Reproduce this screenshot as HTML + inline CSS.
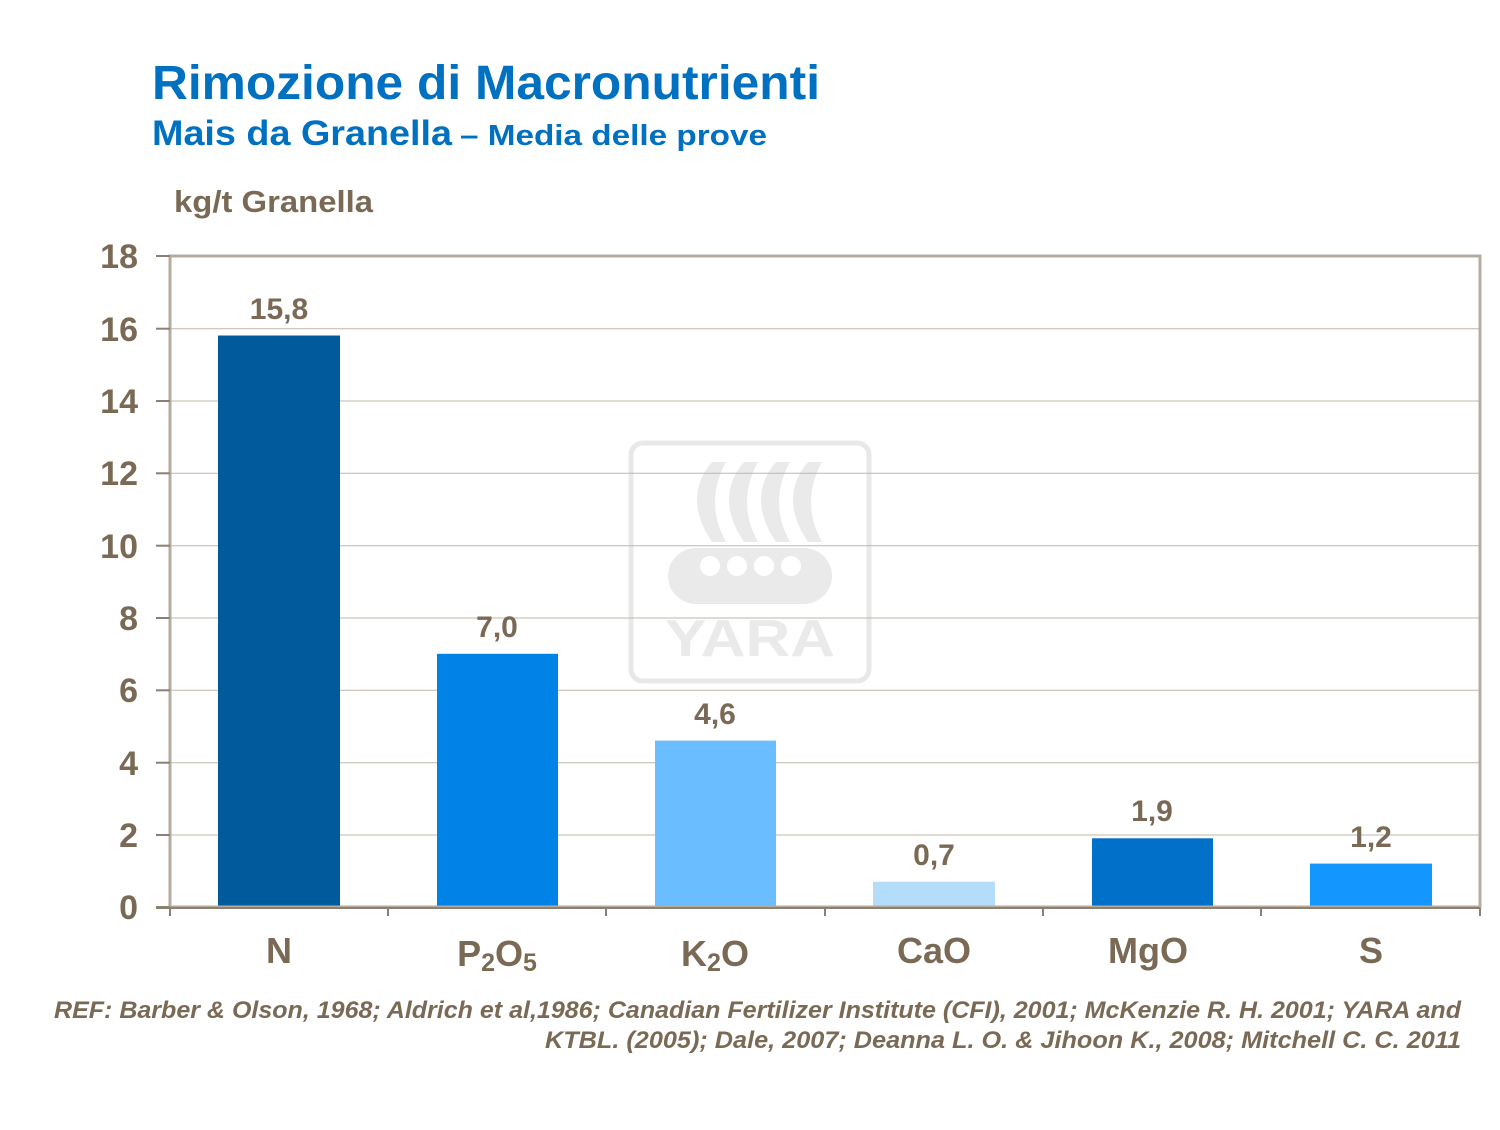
<!DOCTYPE html>
<html><head><meta charset="utf-8"><style>
body{margin:0;background:#fff;}
svg text{font-family:"Liberation Sans",Arial,sans-serif;font-weight:bold;}
</style></head><body>
<svg width="1500" height="1125" viewBox="0 0 1500 1125" xmlns="http://www.w3.org/2000/svg">
<rect width="1500" height="1125" fill="#fff"/>
<text x="152" y="99" font-size="48" fill="#0070c0" textLength="668" lengthAdjust="spacingAndGlyphs">Rimozione di Macronutrienti</text>
<text x="152" y="145" font-size="35" fill="#0070c0" textLength="300" lengthAdjust="spacingAndGlyphs">Mais da Granella</text>
<text x="460" y="145" font-size="29" fill="#0070c0" textLength="307" lengthAdjust="spacingAndGlyphs">– Media delle prove</text>
<text x="174" y="212" font-size="31" fill="#7a6a55" textLength="199" lengthAdjust="spacingAndGlyphs">kg/t Granella</text>
<!-- watermark -->
<g opacity="0.9">
<rect x="631" y="443" width="238" height="238" rx="12" fill="none" stroke="#e6e6e6" stroke-width="5"/>
<g fill="#e8e8e8">
<rect x="668" y="548" width="164" height="56" rx="28"/>
<path d="M712 462 q-30 35 0 80 l14 0 q-22 -40 0 -80z"/>
<path d="M744 462 q-30 35 0 80 l14 0 q-22 -40 0 -80z"/>
<path d="M776 462 q-30 35 0 80 l14 0 q-22 -40 0 -80z"/>
<path d="M808 462 q-30 35 0 80 l14 0 q-22 -40 0 -80z"/>
</g>
<g fill="#fff"><circle cx="710" cy="566" r="10"/><circle cx="737" cy="566" r="10"/><circle cx="764" cy="566" r="10"/><circle cx="791" cy="566" r="10"/></g>
<text x="750" y="656" font-size="52" fill="#e8e8e8" text-anchor="middle" textLength="170" lengthAdjust="spacingAndGlyphs">YARA</text>
</g>
<!-- grid -->
<g stroke="#bfb5a8" stroke-width="1">
<line x1="170" x2="1480" y1="328.7" y2="328.7"/>
<line x1="170" x2="1480" y1="401" y2="401"/>
<line x1="170" x2="1480" y1="473.3" y2="473.3"/>
<line x1="170" x2="1480" y1="545.7" y2="545.7"/>
<line x1="170" x2="1480" y1="618" y2="618"/>
<line x1="170" x2="1480" y1="690.3" y2="690.3"/>
<line x1="170" x2="1480" y1="762.7" y2="762.7"/>
<line x1="170" x2="1480" y1="835" y2="835"/>
</g>
<!-- bars -->
<rect x="218" y="335.5" width="122" height="571.5" fill="#005a9c"/>
<rect x="437" y="653.8" width="121" height="253.2" fill="#0082e6"/>
<rect x="655" y="740.6" width="121" height="166.4" fill="#6abdff"/>
<rect x="873" y="881.7" width="122" height="25.3" fill="#b3ddfa"/>
<rect x="1092" y="838.3" width="121" height="68.7" fill="#0070c8"/>
<rect x="1310" y="863.6" width="122" height="43.4" fill="#1496ff"/>
<rect x="170" y="256" width="1310" height="651" fill="none" stroke="#b5aba0" stroke-width="3"/>
<g stroke="#8c8070" stroke-width="2">
<line x1="156" x2="170" y1="256" y2="256"/><line x1="156" x2="170" y1="328.7" y2="328.7"/>
<line x1="156" x2="170" y1="401" y2="401"/><line x1="156" x2="170" y1="473.3" y2="473.3"/>
<line x1="156" x2="170" y1="545.7" y2="545.7"/><line x1="156" x2="170" y1="618" y2="618"/>
<line x1="156" x2="170" y1="690.3" y2="690.3"/><line x1="156" x2="170" y1="762.7" y2="762.7"/>
<line x1="156" x2="170" y1="835" y2="835"/><line x1="156" x2="170" y1="907" y2="907"/>
<line x1="156" x2="1480" y1="908" y2="908"/>
<line x1="170" x2="170" y1="908" y2="916"/><line x1="388" x2="388" y1="908" y2="916"/>
<line x1="606" x2="606" y1="908" y2="916"/><line x1="825" x2="825" y1="908" y2="916"/>
<line x1="1043" x2="1043" y1="908" y2="916"/><line x1="1261" x2="1261" y1="908" y2="916"/>
<line x1="1480" x2="1480" y1="908" y2="916"/>
</g>
<g font-size="34" fill="#7a6a55" text-anchor="end">
<text x="138" y="268">18</text><text x="138" y="341">16</text><text x="138" y="413">14</text>
<text x="138" y="485">12</text><text x="138" y="558">10</text><text x="138" y="630">8</text>
<text x="138" y="702">6</text><text x="138" y="775">4</text><text x="138" y="847">2</text><text x="138" y="919">0</text>
</g>
<g font-size="30" fill="#7a6a55" text-anchor="middle">
<text x="279" y="319">15,8</text><text x="497" y="637">7,0</text><text x="715" y="724">4,6</text>
<text x="934" y="865">0,7</text><text x="1152" y="821">1,9</text><text x="1371" y="847">1,2</text>
</g>
<g font-size="36" fill="#7a6a55" text-anchor="middle">
<text x="279" y="963">N</text>
<text x="497" y="966">P<tspan font-size="25" dy="5">2</tspan><tspan dy="-5">O</tspan><tspan font-size="25" dy="5">5</tspan></text>
<text x="715" y="966">K<tspan font-size="25" dy="5">2</tspan><tspan dy="-5">O</tspan></text>
<text x="934" y="963">CaO</text><text x="1148" y="963">MgO</text><text x="1371" y="963">S</text>
</g>
<g font-size="24" fill="#7a6a55" font-style="italic">
<text x="54" y="1018" textLength="1407" lengthAdjust="spacingAndGlyphs">REF: Barber &amp; Olson, 1968; Aldrich  et al,1986; Canadian  Fertilizer Institute (CFI), 2001; McKenzie R. H. 2001; YARA and</text>
<text x="545" y="1048" textLength="916" lengthAdjust="spacingAndGlyphs">KTBL. (2005); Dale, 2007; Deanna L. O. &amp; Jihoon K.,  2008; Mitchell C. C. 2011</text>
</g>
</svg>
</body></html>
